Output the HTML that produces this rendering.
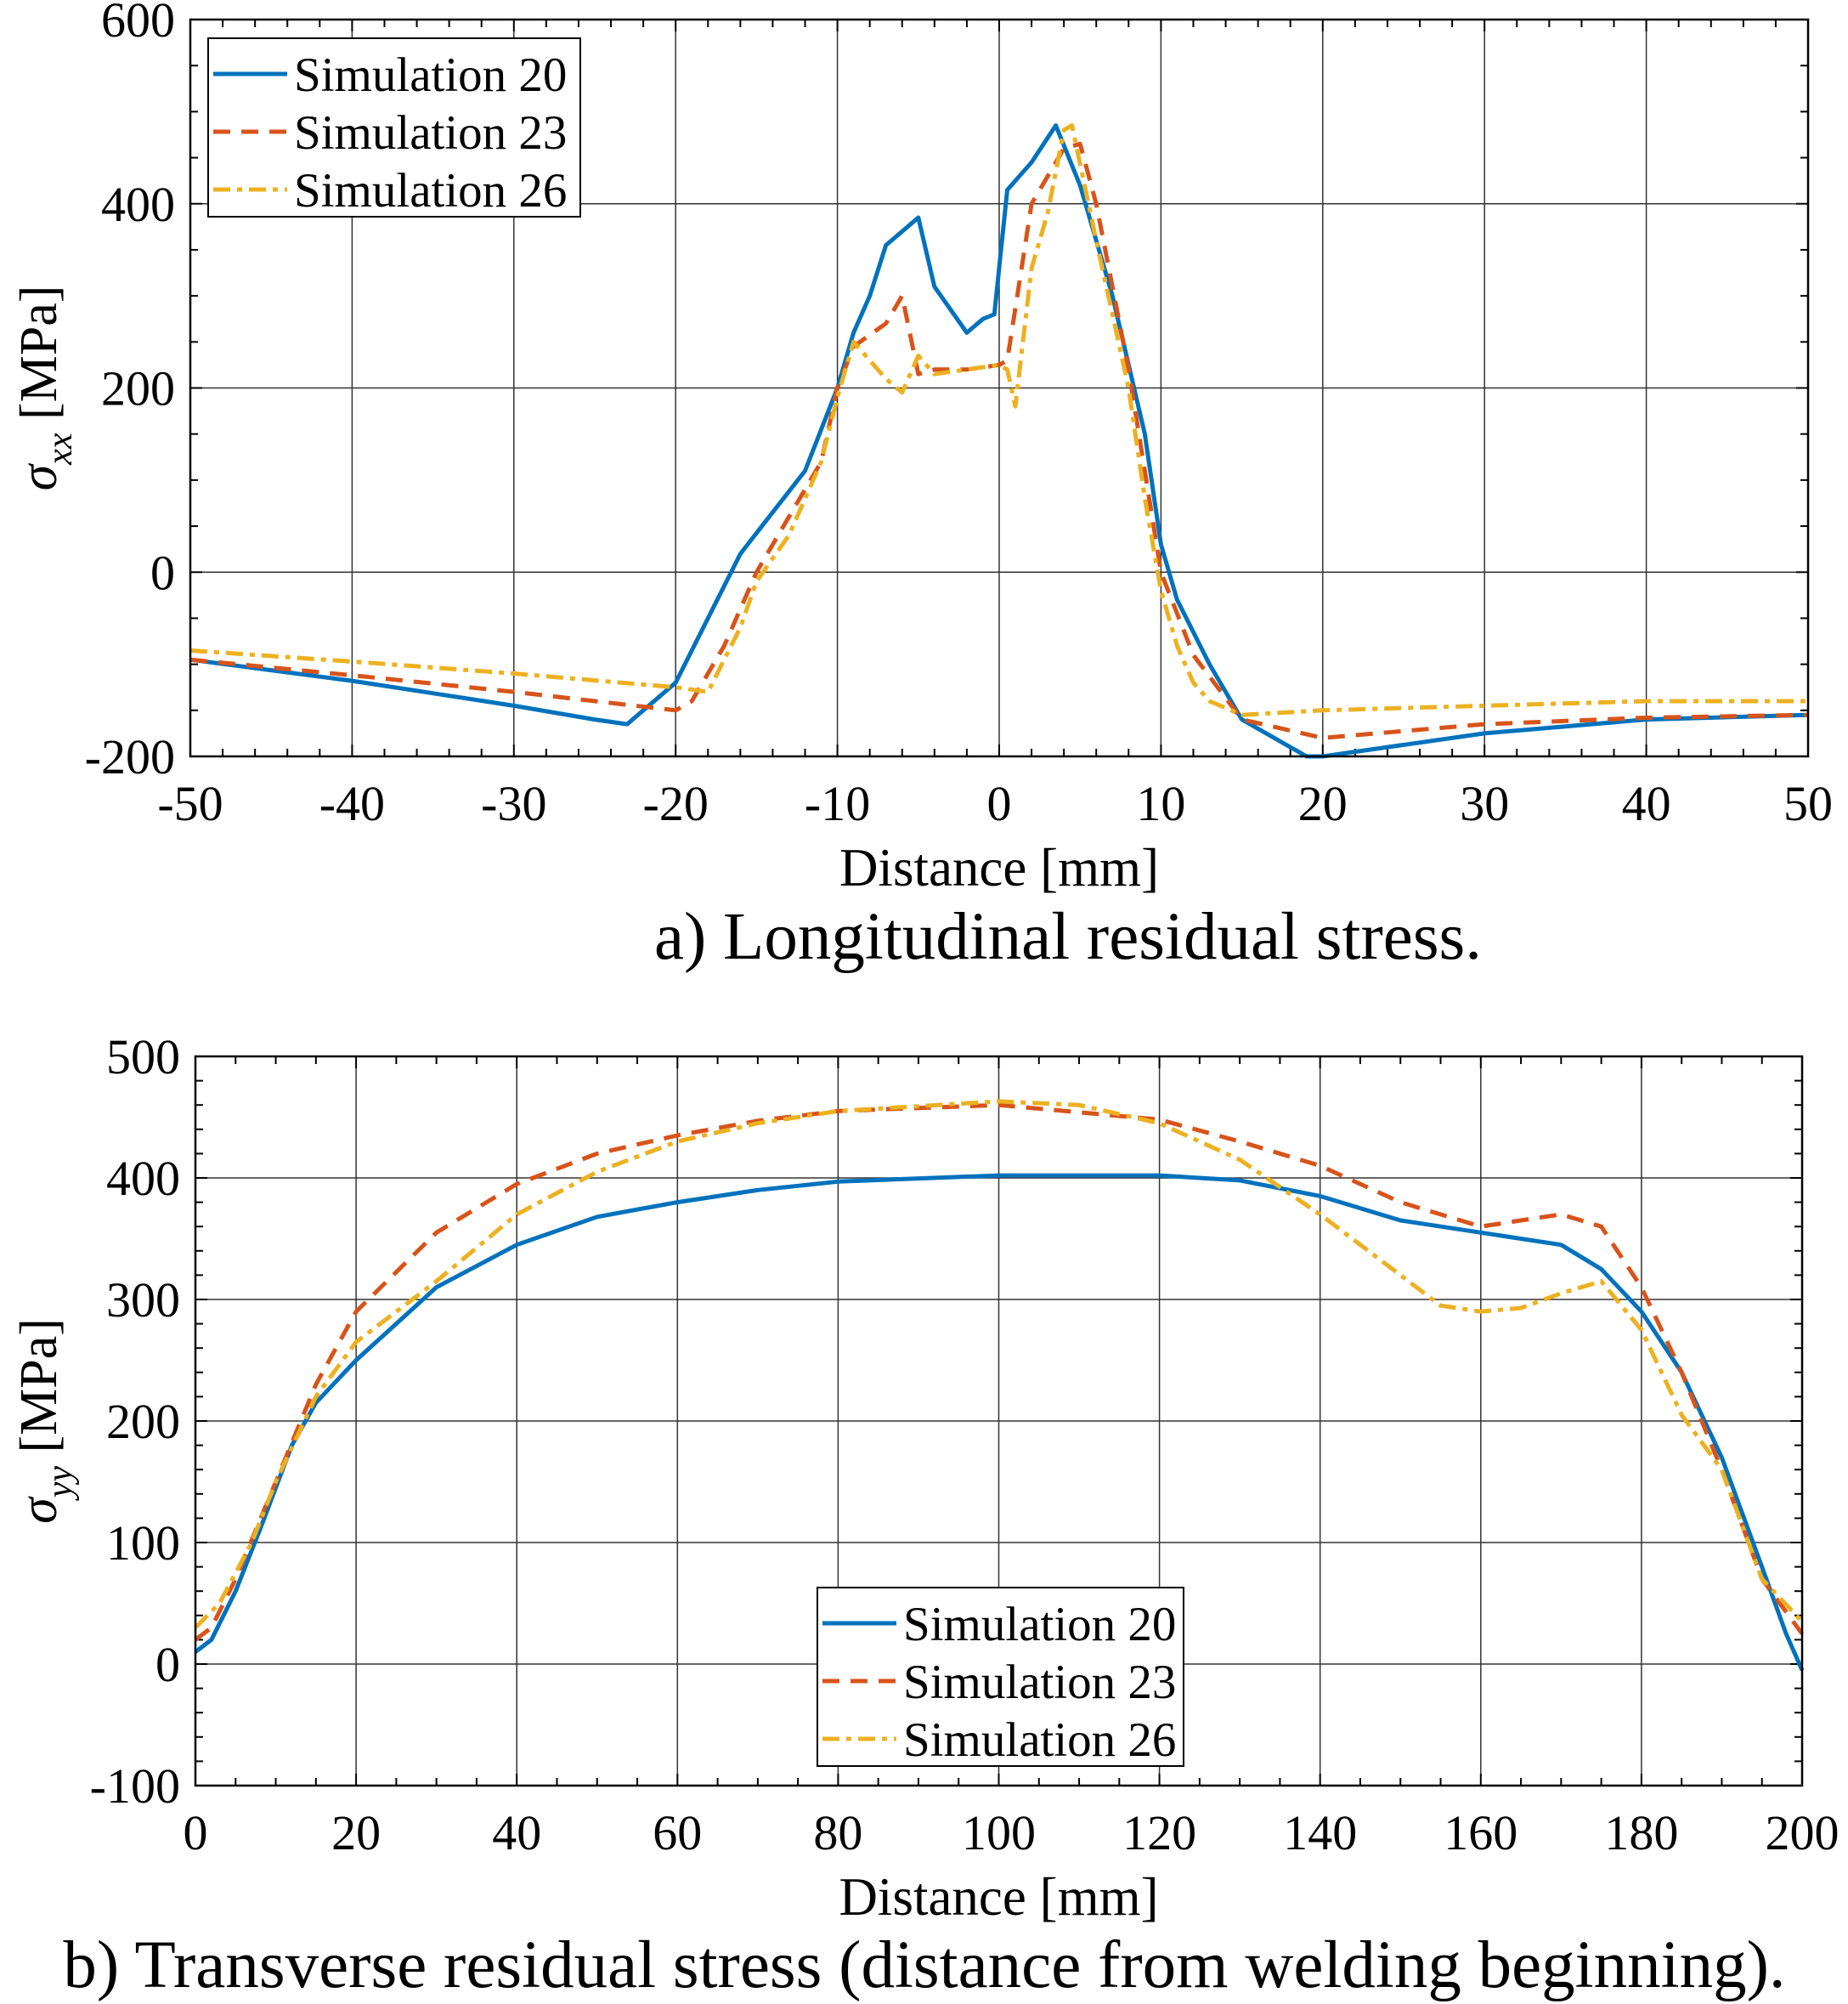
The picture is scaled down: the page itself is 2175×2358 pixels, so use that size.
<!DOCTYPE html>
<html><head><meta charset="utf-8"><style>
body{margin:0;background:#fff}
svg{display:block;font-family:"Liberation Serif",serif}
</style></head><body>
<svg id="fig" width="2175" height="2358" viewBox="0 0 2175 2358" xmlns="http://www.w3.org/2000/svg"></svg>
<script>
// ---- Chart A data ----
const aX20=[-50,-40,-30,-25,-23,-20,-18,-16,-14,-12,-10,-9,-8,-7,-6,-5,-4,-2,-1,-0.3,0.5,2,3.5,5,7,9,10,11,13,15,19,20,30,40,50];
const aY20=[-95,-118,-145,-160,-165,-120,-50,20,65,110,200,260,300,355,370,385,310,260,275,280,415,445,485,420,300,150,30,-30,-100,-160,-200,-200,-175,-160,-155];
const aX23=[-50,-40,-30,-20,-19,-17,-15,-13,-11,-10,-9,-7,-6,-5,-4,-2,0,0.5,2,4,5,6,8,10,12,15,20,30,40,50];
const aY23=[-95,-112,-130,-150,-140,-80,0,60,120,200,245,270,300,215,220,220,225,230,400,460,465,400,220,0,-90,-160,-180,-165,-158,-155];
const aX26=[-50,-40,-30,-20,-18,-16,-15,-13,-11,-10,-9,-8,-7,-6,-5,-4,-2,0,0.5,1,2,3,4,4.5,6,8,9,10,11,12,13,15,20,30,40,50];
const aY26=[-85,-97,-110,-125,-130,-60,-10,40,120,190,250,230,210,195,235,215,220,225,220,180,330,390,480,485,360,200,80,-20,-80,-120,-140,-155,-150,-145,-140,-140];
const aXTicks=[-50,-40,-30,-20,-10,0,10,20,30,40,50];
const aYTicks=[-200,0,200,400,600];
// ---- Chart B data ----
const bX20=[0,2,5,8,12,15,20,30,40,50,60,70,80,100,120,130,140,150,160,170,175,180,185,190,195,198,200];
const bY20=[10,20,60,110,180,215,250,310,345,368,380,390,397,402,402,398,385,365,355,345,325,290,240,170,80,25,-5];
const bX23=[0,2,5,10,15,20,30,40,50,60,70,80,100,120,130,140,150,160,165,170,175,180,185,190,195,200];
const bY23=[20,30,70,150,230,290,355,395,420,435,447,455,460,448,430,410,380,360,365,370,360,310,240,160,70,25];
const bX26=[0,3,7,10,15,20,30,40,50,60,70,80,100,110,120,130,140,150,155,160,165,170,175,180,185,190,195,200];
const bY26=[30,50,100,150,220,265,315,370,405,430,445,455,463,460,445,415,370,320,295,290,293,305,315,275,205,160,70,35];
const bXTicks=[0,20,40,60,80,100,120,140,160,180,200];
const bYTicks=[-100,0,100,200,300,400,500];

const NS="http://www.w3.org/2000/svg";
const svg=document.getElementById('fig');
function mk(tag,attrs,parent){const e=document.createElementNS(NS,tag);for(const k in attrs)e.setAttribute(k,attrs[k]);(parent||svg).appendChild(e);return e;}
const colors=['#0072BD','#D95319','#EDB120'];
const dashes=['none','20,13','20,8,6,8'];

function chart(cfg){
  const g=mk('g',{});
  
  
  const sx=v=>cfg.L+(v-cfg.xmin)/(cfg.xmax-cfg.xmin)*(cfg.R-cfg.L);
  const sy=v=>cfg.B-(v-cfg.ymin)/(cfg.ymax-cfg.ymin)*(cfg.B-cfg.T);
  cfg.xt.forEach(v=>{const l=mk('line',{x1:sx(v),x2:sx(v),y1:cfg.T,y2:cfg.B,stroke:'#333','stroke-width':1.5},g);
    });
  cfg.yt.forEach(v=>{const l=mk('line',{x1:cfg.L,x2:cfg.R,y1:sy(v),y2:sy(v),stroke:'#333','stroke-width':1.5},g);
    });
  for(let v=cfg.xmin;v<=cfg.xmax+1e-9;v+=cfg.xminor){const x=sx(v);const big=cfg.xt.includes(v);const len=big?14:9;
    mk('line',{x1:x,x2:x,y1:cfg.B,y2:cfg.B-len,stroke:'#000','stroke-width':2},g);
    mk('line',{x1:x,x2:x,y1:cfg.T,y2:cfg.T+len,stroke:'#000','stroke-width':2},g);}
  for(let v=cfg.ymin;v<=cfg.ymax+1e-9;v+=cfg.yminor){const y=sy(v);const big=cfg.yt.includes(v);const len=big?14:9;
    mk('line',{x1:cfg.L,x2:cfg.L+len,y1:y,y2:y,stroke:'#000','stroke-width':2},g);
    mk('line',{x1:cfg.R,x2:cfg.R-len,y1:y,y2:y,stroke:'#000','stroke-width':2},g);}
  cfg.series.forEach((s,i)=>{
    const d=s.x.map((v,j)=>(j?'L':'M')+sx(v).toFixed(1)+' '+sy(s.y[j]).toFixed(1)).join(' ');
    const p=mk('path',{d:d,fill:'none',stroke:colors[i],'stroke-width':5,'stroke-dasharray':dashes[i],'stroke-linejoin':'round'},g);
    
    
  });
  const fr=mk('rect',{x:cfg.L,y:cfg.T,width:cfg.R-cfg.L,height:cfg.B-cfg.T,fill:'none',stroke:'#000','stroke-width':2.5},g);
  
  cfg.xt.forEach(v=>{const t=mk('text',{x:sx(v),y:cfg.B+75,'font-size':58,'text-anchor':'middle'},g);t.textContent=v;
    });
  cfg.yt.forEach(v=>{const t=mk('text',{x:cfg.L-18,y:sy(v)+20,'font-size':58,'text-anchor':'end'},g);t.textContent=v;
    });
  const xl=mk('text',{x:(cfg.L+cfg.R)/2,y:cfg.B+152,'font-size':63,'text-anchor':'middle'},g);xl.textContent='Distance [mm]';
  
  const cy=(cfg.T+cfg.B)/2;
  const yl=mk('text',{x:0,y:0,'font-size':62,'text-anchor':'middle',transform:`translate(66 ${cy}) rotate(-90)`},g);
  yl.innerHTML='<tspan font-style="italic">σ</tspan><tspan font-size="42" dy="18" font-style="italic">'+cfg.sub+'</tspan><tspan dy="-18"> [MPa]</tspan>';
  
  const cap=mk('text',{x:cfg.capX,y:cfg.capY,'font-size':79,'text-anchor':'middle'},g);cap.textContent=cfg.cap;
  
  const lg=mk('g',{},g);
  
  
  mk('rect',{x:cfg.lx,y:cfg.ly,width:cfg.lw,height:210,fill:'#fff',stroke:'#000','stroke-width':2},lg);
  ['Simulation 20','Simulation 23','Simulation 26'].forEach((n,i)=>{
    const y=cfg.ly+42+i*68;
    const ln=mk('line',{x1:cfg.lx+6,x2:cfg.lx+93,y1:y,y2:y,stroke:colors[i],'stroke-width':5,'stroke-dasharray':dashes[i]},lg);
    
    const t=mk('text',{x:cfg.lx+101,y:y+20,'font-size':57},lg);t.textContent=n;
    
  });
}
chart({name:'chart-longitudinal',L:224,R:2128,T:23,B:890,xmin:-50,xmax:50,ymin:-200,ymax:600,xminor:2,yminor:50,
  xt:aXTicks,yt:aYTicks,sub:'xx',cap:'a) Longitudinal residual stress.',capX:1257,capY:1128,lx:245,ly:45,lw:438,
  series:[{n:'sim20',x:aX20,y:aY20},{n:'sim23',x:aX23,y:aY23},{n:'sim26',x:aX26,y:aY26}]});
chart({name:'chart-transverse',L:230,R:2121,T:1243,B:2101,xmin:0,xmax:200,ymin:-100,ymax:500,xminor:5,yminor:20,
  xt:bXTicks,yt:bYTicks,sub:'yy',cap:'b) Transverse residual stress (distance from welding beginning).',capX:1088,capY:2338,lx:962,ly:1868,lw:431,
  series:[{n:'sim20',x:bX20,y:bY20},{n:'sim23',x:bX23,y:bY23},{n:'sim26',x:bX26,y:bY26}]});
</script>
</body></html>
